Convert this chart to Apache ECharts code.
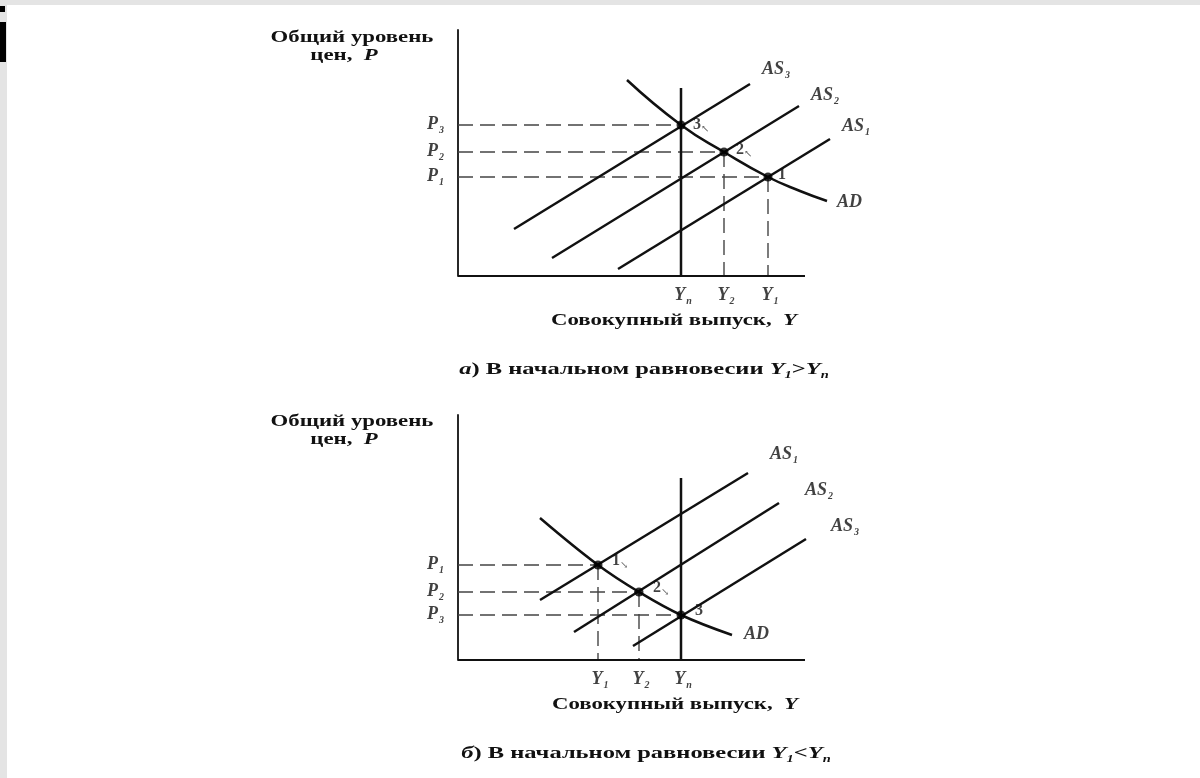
<!DOCTYPE html>
<html>
<head>
<meta charset="utf-8">
<script src="https://cdn.jsdelivr.net/npm/echarts@6/dist/echarts.min.js"></script>
<style>
html,body{margin:0;padding:0;background:#fff;}
#c{width:1200px;height:778px;}
</style>
</head>
<body>
<div id="c"></div>
<script>
// ---- Panel a) data (Y1 > Yn) ----
const aLevels = { Yn: 22.3, Y2: 26.6, Y1: 31.0, P3: 15.1, P2: 12.4, P1: 9.9 };
const aAS3 = [[5.6, 4.7], [29.2, 19.2]];
const aAS2 = [[9.4, 1.8], [34.1, 17.0]];
const aAS1 = [[16.0, 0.7], [37.2, 13.7]];
const aAD = [[16.9, 19.6], [22.3, 15.1], [26.6, 12.4], [31.0, 9.9], [34.2, 8.5], [36.9, 7.5]];
const aYnTop = 18.8;
const aXEnd = 34.7;
const aPoints = [[22.3, 15.1, '3'], [26.6, 12.4, '2'], [31.0, 9.9, '1']];

// ---- Panel b) data (Y1 < Yn) ----
const bLevels = { Y1: 14.0, Y2: 18.1, Yn: 22.3, P1: 9.5, P2: 6.8, P3: 4.5 };
const bAS1 = [[8.2, 6.0], [29.0, 18.7]];
const bAS2 = [[11.6, 2.8], [32.1, 15.7]];
const bAS3 = [[17.5, 1.4], [34.8, 12.1]];
const bAD = [[8.2, 14.2], [14.0, 9.5], [18.1, 6.8], [22.3, 4.5], [27.4, 2.5]];
const bYnTop = 18.2;
const bXEnd = 34.7;
const bPoints = [[14.0, 9.5, '1'], [18.1, 6.8, '2'], [22.3, 4.5, '3']];

const SERIF = '"Liberation Serif","DejaVu Serif",serif';
const ink = '#111';

const chart = echarts.init(document.getElementById('c'), null, { renderer: 'canvas' });

function solid(gi, data, smooth, w) {
  return { type: 'line', xAxisIndex: gi, yAxisIndex: gi, data: data, smooth: smooth || false,
    symbol: 'none', clip: false, silent: true,
    lineStyle: { color: ink, width: w || 2.5 }, z: 3 };
}
function dashed(gi, data) {
  return { type: 'line', xAxisIndex: gi, yAxisIndex: gi, data: data, symbol: 'none', clip: false, silent: true,
    lineStyle: { color: '#444', width: 1.4, type: [15, 7] }, z: 2 };
}
const subRich = {
  m: { fontFamily: SERIF, fontStyle: 'italic', fontWeight: 'bold', fontSize: 18, color: ink, verticalAlign: 'top', lineHeight: 20 },
  s: { fontFamily: SERIF, fontStyle: 'italic', fontWeight: 'bold', fontSize: 10, color: ink, verticalAlign: 'top', padding: [10, 0, 0, 1], lineHeight: 10 },
  n: { fontFamily: SERIF, fontWeight: 'bold', fontSize: 16, color: ink, verticalAlign: 'top', lineHeight: 20 },
  r: { fontFamily: SERIF, fontSize: 10, color: '#333', verticalAlign: 'top', padding: [7, 0, 0, 0], lineHeight: 10 }
};
function labels(gi, items) {
  // items: [x, y, text, position, offsetX, offsetY]
  return { type: 'scatter', xAxisIndex: gi, yAxisIndex: gi, symbolSize: 0, clip: false, silent: true, z: 5,
    data: items.map(it => ({ value: [it[0], it[1]],
      label: { show: true, color: ink, formatter: it[2], position: it[3] || 'right', offset: [it[4] || 0, it[5] || 0], rich: subRich, distance: 4 } })) };
}
function dots(gi, pts) {
  return { type: 'scatter', xAxisIndex: gi, yAxisIndex: gi, symbolSize: 9, clip: false, silent: true, z: 6,
    itemStyle: { color: '#000' }, data: pts.map(p => [p[0], p[1]]) };
}

const series = [
  // panel a
  solid(0, [[0, 0], [aXEnd, 0]], false, 1.8),
  dashed(0, [[0, aLevels.P3], [aLevels.Yn, aLevels.P3]]),
  dashed(0, [[0, aLevels.P2], [aLevels.Y2, aLevels.P2]]),
  dashed(0, [[0, aLevels.P1], [aLevels.Y1, aLevels.P1]]),
  dashed(0, [[aLevels.Y2, aLevels.P2], [aLevels.Y2, 0]]),
  dashed(0, [[aLevels.Y1, aLevels.P1], [aLevels.Y1, 0]]),
  solid(0, [[aLevels.Yn, 0], [aLevels.Yn, aYnTop]]),
  solid(0, aAS3), solid(0, aAS2), solid(0, aAS1), solid(0, aAD, 0.5),
  dots(0, aPoints),
  labels(0, [
    [aAS3[1][0], aAS3[1][1], '{m|AS}{s|3}', 'right', 8, -14],
    [aAS2[1][0], aAS2[1][1], '{m|AS}{s|2}', 'right', 8, -10],
    [aAS1[1][0], aAS1[1][1], '{m|AS}{s|1}', 'right', 8, -12],
    [aAD[5][0], aAD[5][1], '{m|AD}', 'right', 6, 2],
    [aPoints[0][0], aPoints[0][1], '{n|3}{r|↖}', 'right', 8, 2],
    [aPoints[1][0], aPoints[1][1], '{n|2}{r|↖}', 'right', 8, 0],
    [aPoints[2][0], aPoints[2][1], '{n|1}', 'right', 6, 0],
    [0, aLevels.P3, '{m|P}{s|3}', 'left', -10, 0],
    [0, aLevels.P2, '{m|P}{s|2}', 'left', -10, 0],
    [0, aLevels.P1, '{m|P}{s|1}', 'left', -10, 0],
    [aLevels.Yn, 0, '{m|Y}{s|n}', 'bottom', 2, 6],
    [aLevels.Y2, 0, '{m|Y}{s|2}', 'bottom', 2, 6],
    [aLevels.Y1, 0, '{m|Y}{s|1}', 'bottom', 2, 6]
  ]),
  // panel b
  solid(1, [[0, 0], [bXEnd, 0]], false, 1.8),
  dashed(1, [[0, bLevels.P1], [bLevels.Y1, bLevels.P1]]),
  dashed(1, [[0, bLevels.P2], [bLevels.Y2, bLevels.P2]]),
  dashed(1, [[0, bLevels.P3], [bLevels.Yn, bLevels.P3]]),
  dashed(1, [[bLevels.Y1, bLevels.P1], [bLevels.Y1, 0]]),
  dashed(1, [[bLevels.Y2, bLevels.P2], [bLevels.Y2, 0]]),
  solid(1, [[bLevels.Yn, 0], [bLevels.Yn, bYnTop]]),
  solid(1, bAS1), solid(1, bAS2), solid(1, bAS3), solid(1, bAD, 0.4),
  dots(1, bPoints),
  labels(1, [
    [bAS1[1][0], bAS1[1][1], '{m|AS}{s|1}', 'right', 18, -18],
    [bAS2[1][0], bAS2[1][1], '{m|AS}{s|2}', 'right', 22, -12],
    [bAS3[1][0], bAS3[1][1], '{m|AS}{s|3}', 'right', 21, -12],
    [bAD[4][0], bAD[4][1], '{m|AD}', 'right', 8, 0],
    [bPoints[0][0], bPoints[0][1], '{n|1}{r|↘}', 'right', 10, -2],
    [bPoints[1][0], bPoints[1][1], '{n|2}{r|↘}', 'right', 10, -2],
    [bPoints[2][0], bPoints[2][1], '{n|3}', 'right', 10, -2],
    [0, bLevels.P1, '{m|P}{s|1}', 'left', -10, 0],
    [0, bLevels.P2, '{m|P}{s|2}', 'left', -10, 0],
    [0, bLevels.P3, '{m|P}{s|3}', 'left', -10, 0],
    [bLevels.Y1, 0, '{m|Y}{s|1}', 'bottom', 2, 6],
    [bLevels.Y2, 0, '{m|Y}{s|2}', 'bottom', 2, 6],
    [bLevels.Yn, 0, '{m|Y}{s|n}', 'bottom', 2, 6]
  ])
];

function axisX(gi, max) {
  return { type: 'value', gridIndex: gi, min: 0, max: max, axisLabel: { show: false }, axisTick: { show: false },
    splitLine: { show: false }, axisLine: { show: false } };
}
function axisY(gi, max) {
  return { type: 'value', gridIndex: gi, min: 0, max: max, axisLabel: { show: false }, axisTick: { show: false },
    splitLine: { show: false }, axisLine: { show: true, lineStyle: { color: ink, width: 1.8 } } };
}

function capRich(fs) {
  return {
    t: { fontFamily: SERIF, fontWeight: 'bold', fontSize: fs, color: ink, verticalAlign: 'top', lineHeight: fs + 3 },
    i: { fontFamily: SERIF, fontWeight: 'bold', fontStyle: 'italic', fontSize: fs, color: ink, verticalAlign: 'top', lineHeight: fs + 3 },
    s: { fontFamily: SERIF, fontWeight: 'bold', fontStyle: 'italic', fontSize: Math.round(fs * 0.6), color: ink, verticalAlign: 'top', padding: [Math.round(fs * 0.55), 0, 0, 0], lineHeight: 9 }
  };
}
function gtext(x, y, text, fs, sx) {
  return { type: 'text', x: x, y: y, scaleX: sx, scaleY: 1, silent: true,
    style: { text: text, x: 0, y: 0, fontFamily: SERIF, fontWeight: 'bold', fontSize: fs, fill: ink,
      align: 'center', verticalAlign: 'middle', rich: capRich(fs) } };
}

chart.setOption({
  animation: false,
  backgroundColor: '#fff',
  grid: [
    { left: 458, top: 30, width: 382, height: 246 },
    { left: 458, top: 415, width: 382, height: 245 }
  ],
  xAxis: [axisX(0, 38.2), axisX(1, 38.2)],
  yAxis: [axisY(0, 24.6), axisY(1, 24.5)],
  series: series,
  graphic: [
    { type: 'rect', shape: { x: 0, y: 0, width: 1200, height: 5 }, style: { fill: '#e4e4e4' }, silent: true },
    { type: 'rect', shape: { x: 0, y: 0, width: 7, height: 778 }, style: { fill: '#e4e4e4' }, silent: true },
    { type: 'rect', shape: { x: 0, y: 22, width: 6, height: 40 }, style: { fill: '#000' }, silent: true },
    { type: 'rect', shape: { x: 0, y: 6, width: 5, height: 6 }, style: { fill: '#000' }, silent: true },
    gtext(352, 39, '{t|Общий уровень}', 17, 1.34),
    gtext(344, 57, '{t|цен,  }{i|P}', 17, 1.34),
    gtext(674, 322, '{t|Совокупный выпуск,  }{i|Y}', 17, 1.34),
    gtext(644, 371, '{i|а}{t|) В начальном равновесии }{i|Y}{s|1}{t|>}{i|Y}{s|n}', 17, 1.44),
    gtext(352, 423, '{t|Общий уровень}', 17, 1.34),
    gtext(344, 441, '{t|цен,  }{i|P}', 17, 1.34),
    gtext(675, 706, '{t|Совокупный выпуск,  }{i|Y}', 17, 1.34),
    gtext(646, 755, '{i|б}{t|) В начальном равновесии }{i|Y}{s|1}{t|<}{i|Y}{s|n}', 17, 1.44)
  ]
});
</script>
</body>
</html>
